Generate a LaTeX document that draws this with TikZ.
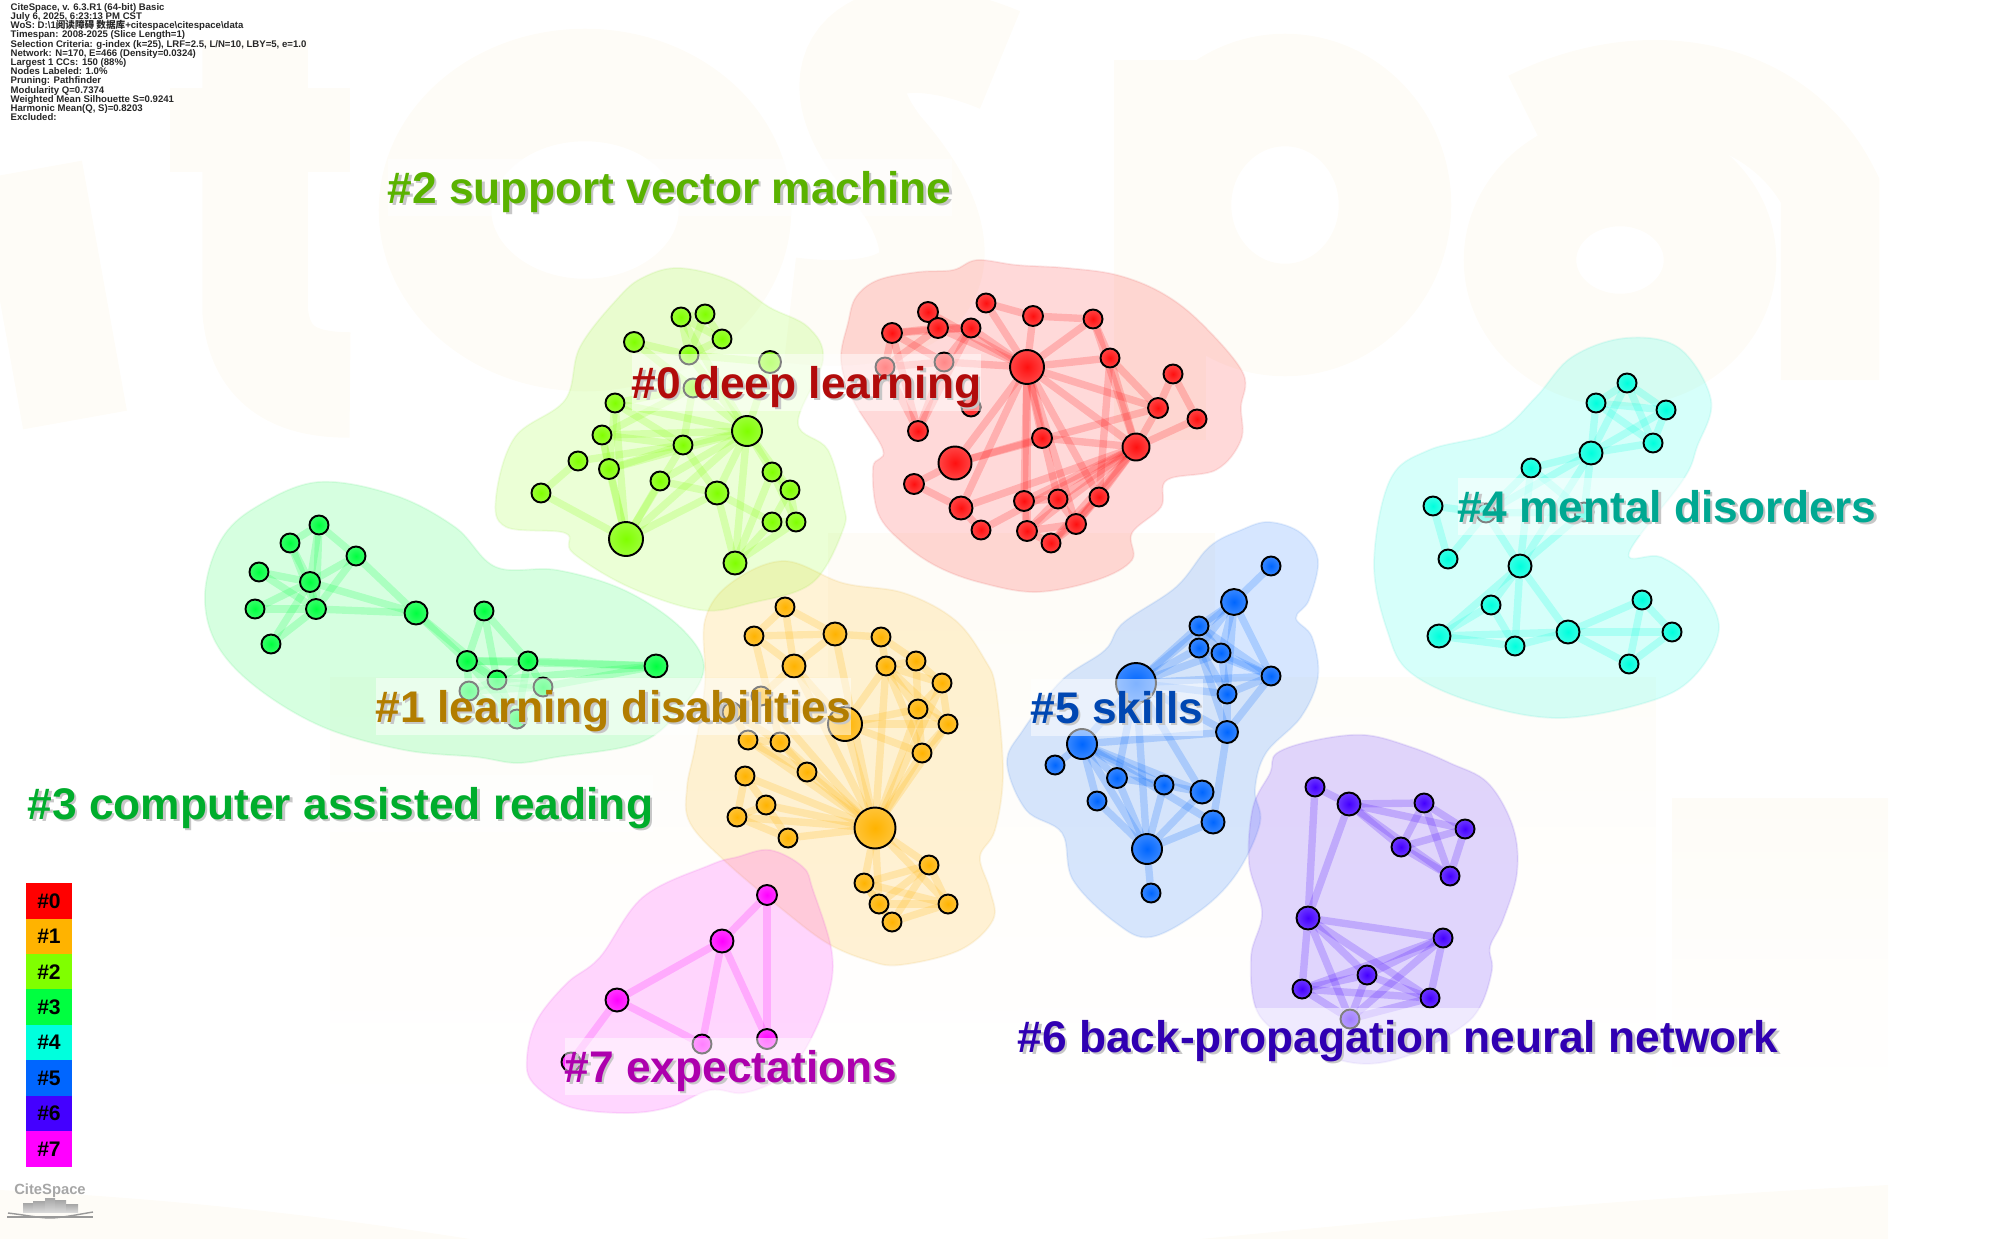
\documentclass[tikz,border=0pt]{standalone}
\usepackage{fontspec}
\setmainfont{Liberation Sans}
\newfontfamily\cjkfont{Noto Sans CJK SC}
\usetikzlibrary{shadings}
\definecolor{cred}{HTML}{FF1010}
\definecolor{cora}{HTML}{FFB300}
\definecolor{clim}{HTML}{80FF00}
\definecolor{cgre}{HTML}{00FF40}
\definecolor{ccya}{HTML}{00FFDD}
\definecolor{cblu}{HTML}{0066FF}
\definecolor{cpur}{HTML}{4400FF}
\definecolor{cmag}{HTML}{FF00FF}
\definecolor{cream}{HTML}{FEFCF7}
\lineskiplimit=-5pt
\newcommand{\shadowed}[1]{\rlap{\kern.7pt\raisebox{-.7pt}{\color{black!22}#1}}#1}
\pgfdeclarelayer{links}
\pgfsetlayers{links,main}
\tikzset{
  hull/.style={fill=#1,fill opacity=.16,draw=#1!70!gray,draw opacity=.1,line width=.5pt},
  link/.style={draw=#1,opacity=.2,line width=2.1pt},
  dot/.style={circle,draw=black,line width=.55pt,inner sep=0pt,inner color=#1,outer color=#1!78!white},
  clusterlabel/.style={anchor=base west,inner sep=0pt,text=#1,fill=white,fill opacity=.5,text opacity=1,
    font=\bfseries\fontsize{12.6}{14}\selectfont,text height=12.5pt,text depth=3.7pt},
}
\begin{document}
\begin{tikzpicture}[x=0.01cm,y=-0.01cm]
\useasboundingbox (0,0) rectangle (2000,1239);

\begin{pgfonlayer}{links}
    \begin{scope} % ----- Watermark
        \clip (0,0) rectangle (1888,1239);
        \draw[cream,line width=30pt] (30,170)--(75,420);
        \draw[cream,line width=30pt] (255,40)--(255,310)..controls (260,370) and (300,385)..(350,385);
        \draw[cream,line width=24pt] (170,130)--(350,130);
        \draw[cream,line width=32pt] (585,210) ellipse (150 and 125);
        \draw[cream,line width=30pt] (1000,60)..controls (880,10) and (810,60)..(880,150)..controls (960,240) and (960,330)..(790,310);
        \draw[cream,line width=26pt] (1160,60)--(1160,440);
        \draw[cream,line width=32pt] (1285,205) ellipse (110 and 115);
        \draw[cream,line width=32pt] (1620,260) ellipse (100 and 90);
        \draw[cream,line width=28pt] (1530,120)..controls (1650,60) and (1780,90)..(1830,190)--(1830,380);
        \shade[top color=cream,bottom color=white] (330,677)--(828,677)--(828,533)--(1215,533)--(1215,677)--(1656,677)--(1656,1120)--(330,1120)--cycle;
        \shade[top color=cream,bottom color=white] (1672,798) rectangle (1888,1120);
        \fill[cream] (0,1190)..controls (200,1200) and (350,1220)..(470,1239)--(0,1239)--cycle;
        \fill[cream] (1888,1185)..controls (1600,1200) and (1400,1220)..(1200,1239)--(1888,1239)--cycle;
    \end{scope}

    \draw[hull=cred] plot[smooth cycle,tension=.6] coordinates {(856,297) (878,280) (918,272) (953,270) (977,260) (1017,265) (1067,268) (1117,275) (1162,293) (1201,323) (1243,373) (1241,407) (1241,440) (1216,470) (1167,480) (1161,507) (1132,533) (1132,560) (1097,580) (1037,592) (982,583) (938,567) (903,543) (878,513) (873,467) (883,450) (853,400) (841,360) (848,323)};
    \draw[hull=cora] plot[smooth cycle,tension=.6] coordinates {(784,561) (843,583) (904,593) (955,620) (985,660) (996,690) (1003,773) (995,830) (980,857) (990,890) (993,920) (960,950) (900,965) (867,960) (827,943) (783,910) (727,863) (690,823) (687,787) (695,747) (705,683) (705,620) (731,583)};
    \draw[hull=clim] plot[smooth cycle,tension=.6] coordinates {(679,268) (729,280) (769,307) (808,327) (823,360) (798,423) (828,450) (843,503) (843,530) (812,583) (751,603) (700,610) (629,587) (573,553) (565,533) (506,527) (496,497) (515,437) (565,400) (580,347) (619,297) (644,277)};
    \draw[hull=cgre] plot[smooth cycle,tension=.6] coordinates {(318,482) (394,495) (455,527) (496,567) (557,570) (624,590) (680,627) (704,667) (680,710) (639,743) (557,757) (517,763) (476,757) (404,750) (323,727) (256,687) (216,643) (205,593) (221,540) (256,507)};
    \draw[hull=ccya] plot[smooth cycle,tension=.6] coordinates {(1626,338) (1679,348) (1711,400) (1697,447) (1683,480) (1629,553) (1661,557) (1697,583) (1719,627) (1697,673) (1654,700) (1561,718) (1476,703) (1411,673) (1388,633) (1374,563) (1390,480) (1429,450) (1497,432) (1536,397) (1572,357)};
    \draw[hull=cblu] plot[smooth cycle,tension=.6] coordinates {(1269,522) (1301,533) (1318,560) (1309,600) (1296,618) (1312,637) (1318,677) (1301,717) (1266,753) (1255,790) (1260,823) (1237,873) (1201,910) (1151,937) (1116,923) (1073,880) (1062,833) (1026,810) (1007,763) (1023,730) (1062,680) (1105,650) (1123,623) (1176,587) (1209,547) (1241,530)};
    \draw[hull=cpur] plot[smooth cycle,tension=.6] coordinates {(1365,735) (1411,747) (1450,763) (1488,783) (1513,827) (1517,873) (1503,920) (1490,947) (1492,970) (1480,1007) (1457,1030) (1404,1057) (1354,1063) (1297,1043) (1258,1013) (1251,957) (1262,913) (1249,863) (1253,807) (1270,773) (1277,753) (1316,740)};
    \draw[hull=cmag] plot[smooth cycle,tension=.6] coordinates {(770,850) (803,867) (813,890) (832,953) (827,1000) (803,1053) (777,1080) (743,1093) (710,1090) (670,1107) (627,1113) (570,1107) (533,1083) (527,1057) (537,1020) (567,983) (600,957) (643,897) (710,865) (737,857)};
\end{pgfonlayer}

\foreach \x/\y/\d [count=\i] in {986/303/19 , 928/312/20 , 938/328/20 , 971/328/19 , 1033/316/20 , 1093/319/19 , 892/333/20 , 885/367/19 , 944/362/19 , 1027/367/34 , 1110/358/19 , 1173/374/19 , 1158/408/20 , 1197/419/19 , 971/407/19 , 918/431/20 , 1042/438/20 , 1136/447/27 , 955/463/33 , 914/484/20 , 961/508/23 , 1024/501/20 , 1058/499/19 , 1099/497/19 , 981/530/19 , 1027/531/20 , 1076/524/20 , 1051/543/19}% ----- Red
    \node[dot=cred,minimum size=\d*0.01cm] (r\i) at (\x,\y) {};
\foreach \x/\y/\d [count=\i] in {681/317/19 , 705/314/19 , 722/339/19 , 634/342/20 , 689/355/19 , 770/362/22 , 693/388/19 , 615/403/19 , 602/435/19 , 747/431/30 , 683/445/19 , 578/461/19 , 609/469/20 , 772/472/19 , 660/481/19 , 790/490/19 , 541/493/19 , 717/493/23 , 772/522/19 , 796/522/19 , 626/539/34 , 735/563/23}% ----- Lime
    \node[dot=clim,minimum size=\d*0.01cm] (l\i) at (\x,\y) {};
\foreach \x/\y/\d [count=\i] in {319/525/19 , 290/543/19 , 356/556/19 , 259/572/19 , 310/582/20 , 255/609/19 , 316/609/20 , 416/613/23 , 484/611/19 , 271/644/19 , 467/661/20 , 528/661/19 , 656/666/23 , 497/680/19 , 469/691/19 , 543/687/19 , 517/719/19}% ----- Green
    \node[dot=cgre,minimum size=\d*0.01cm] (g\i) at (\x,\y) {};
\foreach \x/\y/\d [count=\i] in {785/607/19 , 754/636/19 , 835/634/23 , 881/637/19 , 916/661/19 , 794/666/23 , 886/666/19 , 942/683/19 , 761/696/19 , 732/712/19 , 918/709/19 , 948/724/19 , 845/724/34 , 748/740/19 , 780/742/19 , 922/753/19 , 745/776/19 , 807/772/19 , 766/805/19 , 737/817/19 , 788/838/19 , 875/828/41 , 929/865/19 , 864/883/19 , 879/904/19 , 948/904/19 , 892/922/19}% ----- Orange
    \node[dot=cora,minimum size=\d*0.01cm] (o\i) at (\x,\y) {};
\foreach \x/\y/\d [count=\i] in {767/895/20 , 722/941/23 , 617/1000/23 , 702/1044/19 , 767/1039/20 , 571/1062/19}% ----- Magenta
    \node[dot=cmag,minimum size=\d*0.01cm] (m\i) at (\x,\y) {};
\foreach \x/\y/\d [count=\i] in {1271/566/19 , 1234/602/26 , 1199/626/19 , 1199/648/19 , 1221/653/19 , 1271/676/19 , 1136/683/40 , 1227/694/19 , 1227/732/22 , 1082/744/30 , 1055/765/19 , 1117/778/20 , 1164/785/19 , 1202/792/23 , 1097/801/19 , 1213/822/23 , 1147/849/30 , 1151/893/19}% ----- Blue
    \node[dot=cblu,minimum size=\d*0.01cm] (b\i) at (\x,\y) {};
\foreach \x/\y/\d [count=\i] in {1315/787/19 , 1349/804/23 , 1424/803/19 , 1465/829/19 , 1401/847/19 , 1450/876/19 , 1308/918/23 , 1443/938/19 , 1367/975/19 , 1302/989/19 , 1430/998/19 , 1350/1019/19}% ----- Purple
    \node[dot=cpur,minimum size=\d*0.01cm] (p\i) at (\x,\y) {};
\foreach \x/\y/\d [count=\i] in {1627/383/19 , 1596/403/19 , 1666/410/19 , 1653/443/19 , 1591/453/23 , 1531/468/19 , 1433/506/19 , 1486/513/19 , 1584/512/19 , 1448/559/19 , 1520/566/23 , 1491/605/19 , 1439/636/23 , 1515/646/19 , 1568/632/23 , 1642/600/19 , 1672/632/19 , 1629/664/19}% ----- Cyan
    \node[dot=ccya,minimum size=\d*0.01cm] (c\i) at (\x,\y) {};

\begin{pgfonlayer}{links}
    \foreach \a/\b in {1/5,1/10,5/6,5/10,6/10,2/3,2/10,3/4,3/10,4/10,7/3,7/4,7/8,7/9,7/16,8/9,8/16,9/16,4/9,9/10,8/3,16/4,10/11,10/13,10/17,10/18,10/19,10/22,10/23,10/24,10/26,10/21,10/27,6/11,6/18,11/18,11/13,11/24,12/13,12/14,14/18,13/18,13/19,17/18,19/20,19/17,20/21,21/25,21/18,22/18,23/18,24/18,27/18,28/18,26/18,22/23,22/26,23/27,24/27,26/27,26/28,27/28,23/26,24/28,25/18}
        \draw[link=cred] (r\a)--(r\b);
    \foreach \a/\b in {1/2,1/5,2/5,2/3,3/5,1/3,4/5,5/10,1/10,5/6,6/10,4/7,7/10,7/8,7/11,8/11,8/10,8/13,9/10,9/13,9/11,9/21,8/21,11/10,11/18,12/11,12/17,13/21,15/21,11/21,10/21,15/10,15/18,18/21,10/14,10/18,10/16,14/16,14/20,16/20,16/19,19/20,18/19,19/22,20/22,18/22,10/22,14/22,13/10,13/11,17/21,7/9}
        \draw[link=clim] (l\a)--(l\b);
    \foreach \a/\b in {1/2,1/3,1/5,1/7,2/5,2/7,3/5,3/7,3/8,4/5,4/7,5/7,5/6,6/7,5/10,7/10,5/8,7/8,8/11,8/14,9/11,9/14,9/12,11/12,11/14,12/14,11/15,14/15,12/16,14/16,14/17,12/17,11/17,15/17,16/17,12/13,14/13,16/13,11/13,15/16}
        \draw[link=cgre] (g\a)--(g\b);
    \foreach \a/\b in {1/2,1/3,1/6,2/3,2/6,3/6,3/4,3/22,4/7,4/5,5/8,5/7,5/11,7/8,7/11,7/12,7/16,8/11,8/12,11/12,11/16,12/16,7/22,11/22,16/22,12/22,8/22,13/22,13/7,13/11,13/12,13/16,6/13,6/9,9/10,9/13,10/14,10/15,14/15,14/18,15/18,15/22,14/22,17/22,18/22,19/22,20/22,21/22,17/20,19/20,20/21,17/19,19/21,6/22,22/23,22/24,22/25,22/26,23/26,24/25,24/27,24/26,25/27,25/26,26/27,23/24,23/25,23/27,2/15,9/22}
        \draw[link=cora] (o\a)--(o\b);
    \foreach \a/\b in {1/2,1/5,2/3,2/4,2/5,3/4,3/6}
        \draw[link=cmag] (m\a)--(m\b);
    \foreach \a/\b in {1/2,2/3,2/4,2/5,2/6,2/7,2/8,3/4,3/5,3/7,4/5,4/7,4/8,5/6,5/8,5/7,3/6,6/8,6/9,6/7,4/6,8/9,7/8,7/9,9/10,9/16,10/11,10/12,10/13,10/14,10/15,10/16,10/17,12/13,12/17,13/14,15/17,7/17,7/14,7/12,7/10,13/17,14/17,16/17,17/18,4/9}
        \draw[link=cblu] (b\a)--(b\b);
    \foreach \a/\b in {1/2,1/7,2/7,2/3,2/4,2/5,2/6,3/4,3/5,3/6,4/5,4/6,5/6,7/8,7/9,7/10,7/11,7/12,8/9,8/10,8/11,8/12,9/10,9/11,9/12,10/11,10/12,11/12}
        \draw[link=cpur] (p\a)--(p\b);
    \foreach \a/\b in {1/2,1/3,1/4,1/5,2/3,2/4,2/5,3/4,3/5,4/5,5/6,5/8,5/9,5/11,6/8,6/9,6/11,8/9,8/11,9/11,7/8,7/10,8/10,11/12,11/13,11/14,11/15,12/13,12/14,13/14,13/15,14/15,15/16,15/17,15/18,16/17,16/18,17/18}
        \draw[link=ccya] (c\a)--(c\b);
\end{pgfonlayer}

% ----- Cluster labels
\node[clusterlabel=cred!70!black] (lab0) at (631,398) {\shadowed{\#0 deep learning}};
\node[clusterlabel=cora!70!black] (lab1) at (375,722) {\shadowed{\#1 learning disabilities}};
\node[clusterlabel=clim!70!black] (lab2) at (387,203) {\shadowed{\#2 support vector machine}};
\node[clusterlabel=cgre!68!black] (lab3) at (27,819) {\shadowed{\#3 computer assisted reading}};
\node[clusterlabel=ccya!66!black] (lab4) at (1457,522) {\shadowed{\#4 mental disorders}};
\node[clusterlabel=cblu!70!black] (lab5) at (1030,723) {\shadowed{\#5 skills}};
\node[clusterlabel=cpur!70!black] (lab6) at (1017,1052) {\shadowed{\#6 back-propagation neural network}};
\node[clusterlabel=cmag!68!black] (lab7) at (564,1082) {\shadowed{\#7 expectations}};

% ----- Summary
\node[anchor=north west,inner sep=0pt,align=left,text=black!85,font=\bfseries\fontsize{2.73}{2.62}\selectfont] (summary) at (10,2.5) {
CiteSpace, v. 6.3.R1 (64-bit) Basic\\
July 6, 2025, 6:23:13 PM CST\\
WoS: D:\textbackslash 1{\cjkfont 阅读障碍 数据库}+citespace\textbackslash citespace\textbackslash data\\
Timespan: 2008-2025 (Slice Length=1)\\
Selection Criteria: g-index (k=25), LRF=2.5, L/N=10, LBY=5, e=1.0\\
Network: N=170, E=466 (Density=0.0324)\\
Largest 1 CCs: 150 (88\%)\\
Nodes Labeled: 1.0\%\\
Pruning: Pathfinder\\
Modularity Q=0.7374\\
Weighted Mean Silhouette S=0.9241\\
Harmonic Mean(Q, S)=0.8203\\
Excluded:};

% ----- Legend
\foreach \c [count=\i from 0] in {red,cora,clim,cgre,ccya,cblu,cpur,cmag}
    \node[fill=\c,minimum width=0.46cm,minimum height=0.356cm,inner sep=0pt,font=\bfseries\fontsize{6}{7}\selectfont] (key\i) at (49,901+35.4*\i) {\raisebox{-1pt}{\#\i}};

% ----- Logo
\node[inner sep=0pt,text=black!35,font=\bfseries\fontsize{4.2}{5}\selectfont] (logotext) at (50,1191) {CiteSpace};
\foreach \x/\y/\w in {23/1203/10 , 33/1201/12 , 45/1198/10 , 55/1200/11 , 66/1204/12}
    \shade[top color=black!35,bottom color=black!15] (\x,\y) rectangle ++(\w,1212-\y);
\draw[black!40,line width=.4pt] (8,1213)..controls (25,1215) and (40,1218)..(50,1218)..controls (60,1218) and (75,1215)..(93,1212);
\draw[black!40,line width=.4pt] (7,1217)--(93,1217);
\end{tikzpicture}
\end{document}
